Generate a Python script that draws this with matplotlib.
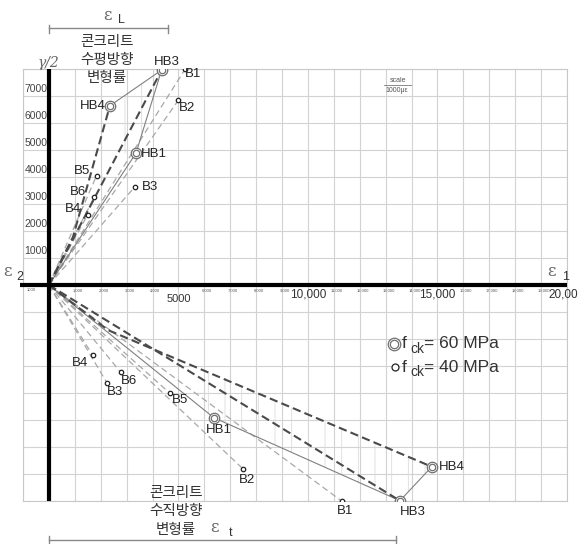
import numpy as np
import matplotlib
matplotlib.use("Agg")
import matplotlib.pyplot as plt

plt.rcParams['font.family'] = ['Liberation Sans', 'Noto Sans CJK KR', 'DejaVu Sans']
plt.rcParams['hatch.linewidth'] = 0.6

# ---- data (strain, micro-strain) ----
hb_names = ['HB1', 'HB3', 'HB4']
b_names = ['B1', 'B2', 'B3', 'B4', 'B5', 'B6']

# upper half: horizontal strain (eps_L) vs gamma/2
upper_hb_x = [3360, 4350, 2355]
upper_hb_y = [4880, 7960, 6640]
upper_b_x = [5260, 5000, 3320, 1490, 1840, 1750]
upper_b_y = [8000, 6850, 3640, 2590, 4050, 3250]
upper_hb4_kink = [930, 1780]

# lower half: vertical strain (eps_t)
lower_hb_x = [6360, 13550, 14780]
lower_hb_y = [-4910, -7990, -6730]
lower_b_x = [11300, 7480, 2250, 1690, 4670, 2770]
lower_b_y = [-8000, -6800, -3640, -2600, -4010, -3230]
lower_hb4_kink = [2280, -1670]

W, H = 578, 544
fig = plt.figure(figsize=(W / 100, H / 100), dpi=100)
ax = fig.add_axes([23 / W, 1 - 501 / H, 544 / W, 432 / H])
ax.set_xlim(-1000, 20000)
ax.set_ylim(-8000, 8000)
ax.set_xticks(range(-1000, 20001, 1000))
ax.set_yticks(range(-8000, 8001, 1000))
ax.grid(color='#d2d2d2', lw=0.8)
ax.set_axisbelow(True)
ax.tick_params(length=0, labelbottom=False, labelleft=False)
for s in ax.spines.values():
    s.set_color('#c8c8c8')
    s.set_linewidth(0.8)


def fx(px):
    return px / W


def fy(py):
    return 1 - py / H


# thick main axes
ax.plot([-1120, 20000], [0, 0], color='k', lw=3.0, clip_on=False, zorder=6, solid_capstyle='butt')
ax.plot([0, 0], [-8000, 8000], color='k', lw=3.0, clip_on=False, zorder=6, solid_capstyle='butt')

dark_dash = dict(color='#4a4a4a', lw=1.5, dashes=(4, 2), zorder=4)
thin_solid = dict(color='#808080', lw=0.8, zorder=4)
light_dash = dict(color='#a8a8a8', lw=0.9, dashes=(5, 3), zorder=3)


def draw_half(hb_x, hb_y, b_x, b_y, kink, labels_hb, labels_b):
    hb1, hb3, hb4 = [(x, y) for x, y in zip(hb_x, hb_y)]
    for x, y in zip(b_x, b_y):
        ax.plot([0, x], [0, y], **light_dash)
    ax.plot([0, hb1[0], hb3[0]], [0, hb1[1], hb3[1]], **thin_solid)
    ax.plot([hb4[0], hb3[0]], [hb4[1], hb3[1]], **thin_solid)
    ax.plot([0, hb3[0]], [0, hb3[1]], **dark_dash)
    ax.plot([0, kink[0], hb4[0]], [0, kink[1], hb4[1]], **dark_dash)
    ax.plot(b_x, b_y, 'o', ms=3.2, mfc='white', mec='#222222', mew=0.9, zorder=7)
    ax.plot(hb_x, hb_y, 'o', ms=7.5, mfc='white', mec='#707070', mew=0.9, zorder=7)
    ax.plot(hb_x, hb_y, 'o', ms=4.6, mfc='white', mec='#707070', mew=0.9, zorder=8)
    for name, x, y in zip(hb_names, hb_x, hb_y):
        dx, dy, ha = labels_hb[name]
        ax.annotate(name, (x, y), xytext=(dx, dy), textcoords='offset pixels',
                    ha=ha, va='center', fontsize=9.5, color='#222222', zorder=9)
    for name, x, y in zip(b_names, b_x, b_y):
        dx, dy, ha = labels_b[name]
        ax.annotate(name, (x, y), xytext=(dx, dy), textcoords='offset pixels',
                    ha=ha, va='center', fontsize=9.5, color='#222222', zorder=9)


draw_half(upper_hb_x, upper_hb_y, upper_b_x, upper_b_y, upper_hb4_kink,
          {'HB1': (5, -1, 'left'), 'HB3': (5, 8, 'center'), 'HB4': (-4, 0, 'right')},
          {'B1': (8, -5, 'center'), 'B2': (9, -8, 'center'), 'B3': (7, 0, 'left'),
           'B4': (-6, 6, 'right'), 'B5': (-6, 5, 'right'), 'B6': (-8, 5, 'right')})
draw_half(lower_hb_x, lower_hb_y, lower_b_x, lower_b_y, lower_hb4_kink,
          {'HB1': (5, -12, 'center'), 'HB3': (13, -11, 'center'), 'HB4': (7, 0, 'left')},
          {'B1': (3, -10, 'center'), 'B2': (4, -11, 'center'), 'B3': (8, -9, 'center'),
           'B4': (-5, -8, 'right'), 'B5': (10, -7, 'center'), 'B6': (8, -9, 'center')})

# dotted hatching between the HB envelopes
hatch = dict(facecolor='none', edgecolor='#dcdcdc', hatch='|', lw=0, zorder=2)
ux, uy = upper_hb_x, upper_hb_y
ax.fill([ux[2], ux[1], ux[0], ux[2]], [uy[2], uy[1], uy[0], uy[0]], **hatch)
lx, ly = lower_hb_x, lower_hb_y
x0 = 5700
y_top = np.interp(x0, [lower_hb4_kink[0], lx[2]], [lower_hb4_kink[1], ly[2]])
y_bot = np.interp(x0, [0, lx[0]], [0, ly[0]])
ax.fill([x0, lx[2], lx[1], lx[0], x0], [y_top, ly[2], ly[1], ly[0], y_bot], **hatch)

# y tick labels (upper half only)
for v in range(1000, 8000, 1000):
    ax.text(-60, v + 80, str(v), ha='right', va='bottom', fontsize=7.5, color='#444444', zorder=7)

# x tick labels: tiny ones and large ones
ax.text(-1000 + 150, -120, '1000', ha='left', va='top', fontsize=3, color='#555555')
for v in range(1000, 20000, 1000):
    if v % 5000:
        ax.text(v + 110, -120, f'{v:,}', ha='center', va='top', fontsize=3, color='#555555')
ax.text(5000, -330, '5000', ha='center', va='top', fontsize=8, color='#333333')
for v in [10000, 15000, 20000]:
    ax.text(v, -120, f'{v:,}', ha='center', va='top', fontsize=8.5, color='#333333', clip_on=False)

# axis symbols
eps = dict(family='DejaVu Serif', color='#666666', fontsize=12)
fig.text(fx(3), fy(272), 'ε', ha='left', va='center', **eps)
fig.text(fx(16), fy(277), '2', ha='left', va='center', fontsize=9, color='#333333')
fig.text(fx(547), fy(272), 'ε', ha='left', va='center', **eps)
fig.text(fx(562), fy(277), '1', ha='left', va='center', fontsize=9, color='#333333')
fig.text(fx(49), fy(63), 'γ/2', ha='center', va='center', family='DejaVu Serif',
         style='italic', fontsize=10, color='#666666')

# top bracket: eps_L
fig.add_artist(plt.Line2D([fx(49), fx(168)], [fy(28), fy(28)], color='#888888', lw=1))
fig.add_artist(plt.Line2D([fx(49), fx(49)], [fy(25), fy(33)], color='#888888', lw=1))
fig.add_artist(plt.Line2D([fx(168), fx(168)], [fy(25), fy(33)], color='#888888', lw=1))
fig.text(fx(108), fy(15), 'ε', ha='center', va='center', **eps)
fig.text(fx(121), fy(20), 'L', ha='center', va='center', fontsize=9, color='#333333')
for i, line in enumerate(['콘크리트', '수평방향', '변형률']):
    fig.text(fx(107), fy(42 + 18 * i), line, ha='center', va='center',
             family='Noto Sans CJK KR', fontsize=10.5, color='#333333')

# bottom bracket: eps_t
fig.add_artist(plt.Line2D([fx(49), fx(396)], [fy(540), fy(540)], color='#888888', lw=1))
fig.add_artist(plt.Line2D([fx(49), fx(49)], [fy(536), fy(544)], color='#888888', lw=1))
fig.add_artist(plt.Line2D([fx(396), fx(396)], [fy(536), fy(544)], color='#888888', lw=1))
for i, line in enumerate(['콘크리트', '수직방향', '변형률']):
    fig.text(fx(176), fy(493 + 18.5 * i), line, ha='center', va='center',
             family='Noto Sans CJK KR', fontsize=10.5, color='#333333')
fig.text(fx(215), fy(528), 'ε', ha='center', va='center', **eps)
fig.text(fx(231), fy(533), 't', ha='center', va='center', fontsize=9, color='#333333')

# scale note
fig.text(fx(398), fy(80), 'scale', ha='center', va='center', fontsize=5, color='#555555')
fig.add_artist(plt.Line2D([fx(384), fx(411)], [fy(85), fy(85)], color='#777777', lw=0.6))
fig.text(fx(397), fy(90), '1000με', ha='center', va='center', fontsize=5, color='#555555')

# legend
fig.add_artist(plt.Line2D([fx(394)], [fy(344)], marker='o', ms=9, mfc='white', mec='#707070', mew=0.9))
fig.add_artist(plt.Line2D([fx(394)], [fy(344)], marker='o', ms=6, mfc='white', mec='#707070', mew=0.9))
fig.add_artist(plt.Line2D([fx(395)], [fy(367)], marker='o', ms=5, mfc='white', mec='#222222', mew=0.9))
for py, txt in [(344, '= 60 MPa'), (367, '= 40 MPa')]:
    fig.text(fx(402), fy(py), 'f', ha='left', va='center', fontsize=12.5, color='#333333')
    fig.text(fx(410), fy(py + 5), 'ck', ha='left', va='center', fontsize=10, color='#333333')
    fig.text(fx(424), fy(py), txt, ha='left', va='center', fontsize=12.5, color='#333333')

fig.savefig('out.png', dpi=100)
